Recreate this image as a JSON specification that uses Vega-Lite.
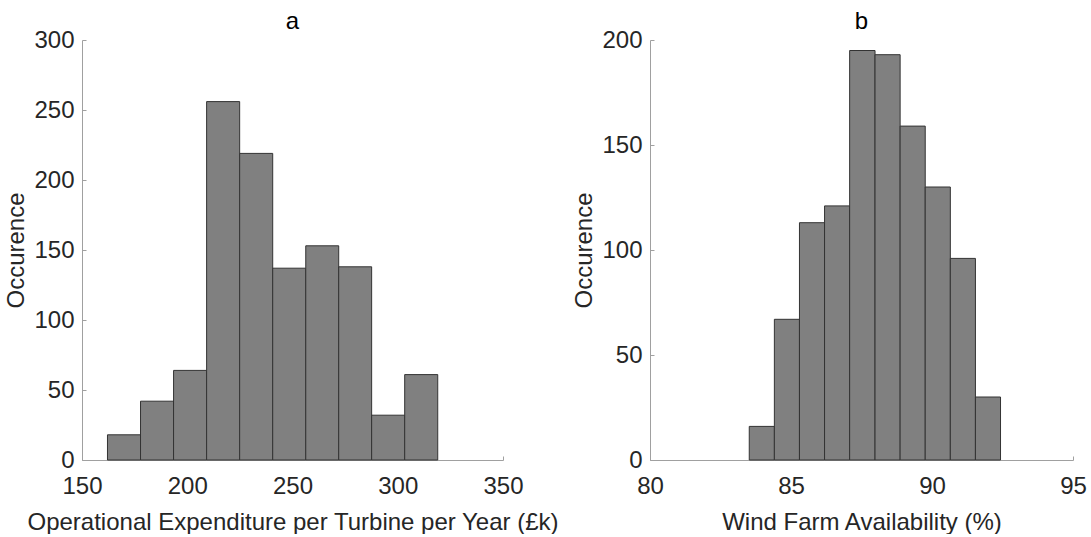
{
  "$schema": "https://vega.github.io/schema/vega-lite/v6.json",
  "background": "white",
  "padding": {"left": 4, "top": 10, "right": 3, "bottom": 0},
  "bounds": "flush",
  "spacing": 147,
  "config": {
    "font": "Liberation Sans",
    "view": {"stroke": null},
    "scale": {"continuousPadding": 0},
    "axis": {
      "grid": false,
      "domainColor": "#a0a0a0",
      "domainWidth": 1,
      "tickColor": "#a0a0a0",
      "tickWidth": 1,
      "tickSize": -4,
      "labelFont": "Liberation Sans",
      "labelFontSize": 24,
      "labelColor": "#262626",
      "labelFlush": false,
      "labelOverlap": false,
      "titleFont": "Liberation Sans",
      "titleFontSize": 24,
      "titleFontWeight": "normal",
      "titleColor": "#262626"
    },
    "axisX": {"labelPadding": 18, "titlePadding": 12},
    "axisY": {"labelPadding": 12, "titlePadding": 5},
    "title": {"font": "Liberation Sans", "fontSize": 24, "fontWeight": "normal", "color": "#000000", "offset": -6, "frame": "group", "anchor": "middle"}
  },
  "datasets": {
    "opex": [
      {"lo": 162.1, "hi": 177.8, "n": 18},
      {"lo": 177.8, "hi": 193.5, "n": 42},
      {"lo": 193.5, "hi": 209.2, "n": 64},
      {"lo": 209.2, "hi": 224.9, "n": 256},
      {"lo": 224.9, "hi": 240.6, "n": 219},
      {"lo": 240.6, "hi": 256.3, "n": 137},
      {"lo": 256.3, "hi": 271.95, "n": 153},
      {"lo": 271.95, "hi": 287.6, "n": 138},
      {"lo": 287.6, "hi": 303.3, "n": 32},
      {"lo": 303.3, "hi": 319.0, "n": 61}
    ],
    "avail": [
      {"lo": 83.52, "hi": 84.41, "n": 16},
      {"lo": 84.41, "hi": 85.30, "n": 67},
      {"lo": 85.30, "hi": 86.19, "n": 113},
      {"lo": 86.19, "hi": 87.08, "n": 121},
      {"lo": 87.08, "hi": 87.98, "n": 195},
      {"lo": 87.98, "hi": 88.87, "n": 193},
      {"lo": 88.87, "hi": 89.76, "n": 159},
      {"lo": 89.76, "hi": 90.65, "n": 130},
      {"lo": 90.65, "hi": 91.54, "n": 96},
      {"lo": 91.54, "hi": 92.43, "n": 30}
    ]
  },
  "hconcat": [
    {
      "title": "a",
      "width": 421,
      "height": 420,
      "data": {"name": "opex"},
      "mark": {"type": "rect", "fill": "#808080", "stroke": "#333333", "strokeWidth": 1},
      "encoding": {
        "x": {
          "field": "lo",
          "type": "quantitative",
          "scale": {"domain": [150, 350], "nice": false, "zero": false},
          "axis": {"values": [150, 200, 250, 300, 350], "title": "Operational Expenditure per Turbine per Year (£k)"}
        },
        "x2": {"field": "hi"},
        "y": {
          "field": "n",
          "type": "quantitative",
          "scale": {"domain": [0, 300], "nice": false},
          "axis": {"values": [0, 50, 100, 150, 200, 250, 300], "title": "Occurence"}
        },
        "y2": {"datum": 0}
      }
    },
    {
      "title": "b",
      "width": 423,
      "height": 420,
      "data": {"name": "avail"},
      "mark": {"type": "rect", "fill": "#808080", "stroke": "#333333", "strokeWidth": 1},
      "encoding": {
        "x": {
          "field": "lo",
          "type": "quantitative",
          "scale": {"domain": [80, 95], "nice": false, "zero": false},
          "axis": {"values": [80, 85, 90, 95], "title": "Wind Farm Availability (%)"}
        },
        "x2": {"field": "hi"},
        "y": {
          "field": "n",
          "type": "quantitative",
          "scale": {"domain": [0, 200], "nice": false},
          "axis": {"values": [0, 50, 100, 150, 200], "title": "Occurence"}
        },
        "y2": {"datum": 0}
      }
    }
  ]
}
